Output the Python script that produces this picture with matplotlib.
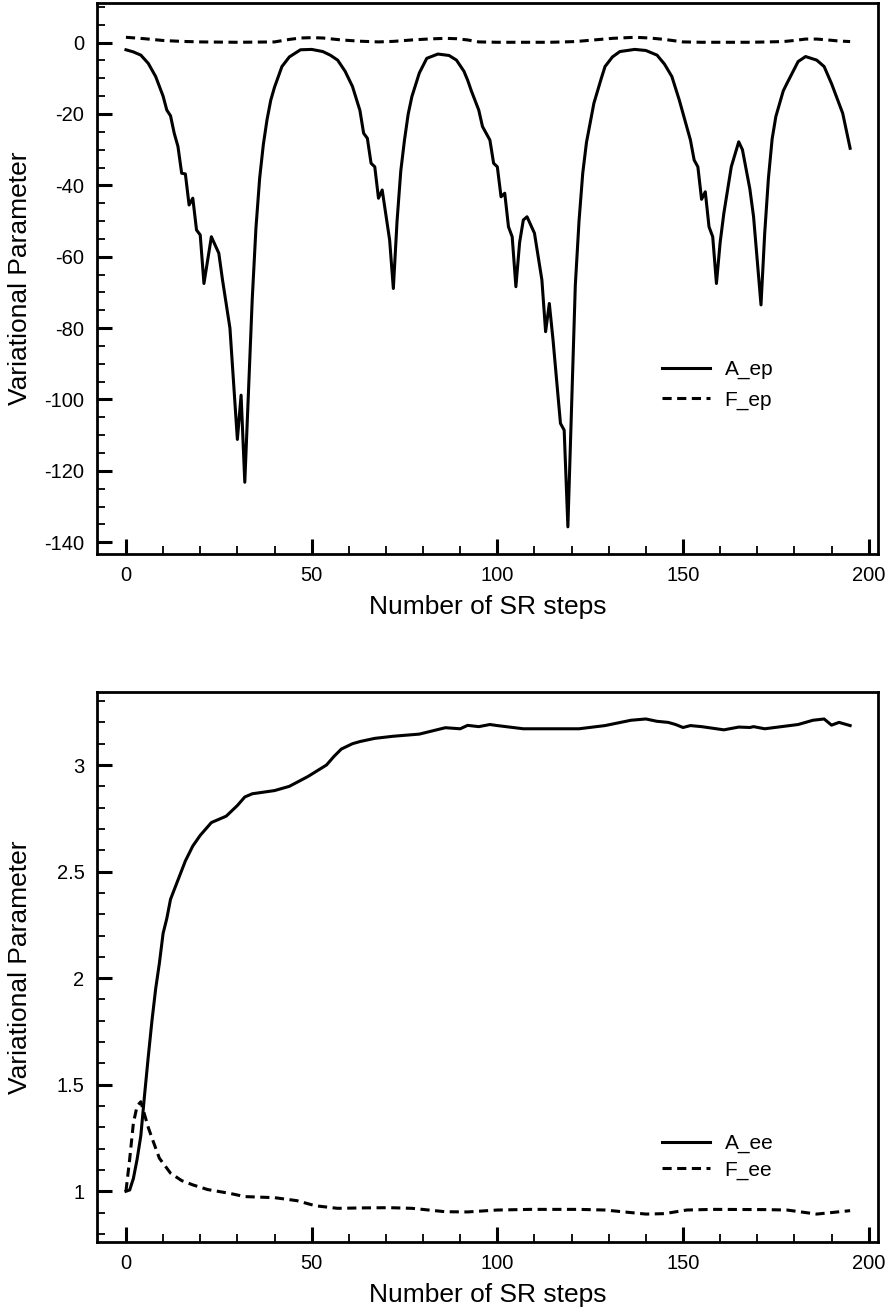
import matplotlib
matplotlib.use("Agg")
import matplotlib.pyplot as plt
from matplotlib.ticker import MultipleLocator, FuncFormatter

plt.rcParams["font.family"] = ["Liberation Sans", "DejaVu Sans"]
plt.rcParams["axes.unicode_minus"] = False

# electron-proton parameters vs. SR step
ep_steps_A = [0, 2, 4, 6, 8, 10, 11, 12, 13, 14, 15, 16, 17, 18, 19, 20, 21, 23, 25, 26, 28, 30, 31, 32,
              34, 35, 36, 37, 38, 39, 40, 42, 44, 47, 50, 53, 55, 57, 59, 61, 63, 64, 65, 66, 67, 68, 69,
              71, 72, 73, 74, 75, 76, 77, 79, 81, 84, 87, 89, 91, 92, 93, 95, 96, 97, 98, 99, 100, 101,
              102, 103, 104, 105, 106, 107, 108, 110, 112, 113, 114, 115, 117, 118, 119, 120, 121, 122,
              123, 124, 126, 128, 129, 131, 133, 137, 140, 143, 145, 147, 149, 151, 152, 153, 154, 155,
              156, 157, 158, 159, 160, 161, 163, 165, 166, 168, 169, 171, 172, 173, 174, 175, 177, 178,
              181, 183, 186, 188, 190, 192, 193, 195]
A_ep = [-2.0, -2.6, -3.5, -5.8, -9.5, -15.0, -18.9, -20.5, -25.4, -29.1, -36.6, -36.8, -45.5, -43.6,
        -52.5, -53.9, -67.5, -54.4, -59.0, -66.5, -80.0, -111.2, -98.8, -123.2,
        -72.0, -52.0, -38.0, -28.5, -21.5, -16.1, -12.5, -6.7, -4.0, -2.0, -1.9, -2.5, -3.5, -4.9,
        -8.0, -12.3, -19.0, -25.4, -26.8, -33.8, -34.8, -43.6, -41.3,
        -55.3, -68.9, -50.0, -36.0, -27.3, -20.0, -15.1, -8.5, -4.4, -3.2, -3.6, -4.9, -8.0, -10.5,
        -13.5, -18.9, -23.5, -25.4, -27.3, -33.8, -34.8, -43.2,
        -42.2, -51.6, -54.4, -68.4, -56.0, -49.7, -48.8, -53.4, -66.5, -81.0, -73.1, -83.3, -106.7,
        -108.6, -135.7, -102.0, -68.0, -50.0,
        -36.6, -28.0, -17.0, -10.0, -6.7, -4.0, -2.5, -1.9, -2.2, -3.5, -6.0, -9.5, -16.1, -23.5,
        -27.3, -32.9, -34.8, -43.9, -41.8, -51.6, -54.4, -67.5, -56.0, -47.8, -34.8, -27.8, -30.0,
        -41.0, -48.8, -73.5, -53.4, -38.0, -27.0, -20.7, -13.5, -11.4,
        -5.3, -3.9, -4.9, -6.7, -11.5, -17.0, -19.8, -29.6]

ep_steps_F = [0, 5, 10, 15, 20, 30, 40, 44, 47, 50, 53, 58, 63, 68, 72, 77, 82, 86, 89, 92, 95, 100,
              105, 110, 114, 118, 121, 126, 131, 137, 141, 145, 150, 155, 160, 168, 173, 177, 180, 183,
              186, 189, 192, 195]
F_ep = [1.5, 1.1, 0.6, 0.35, 0.2, 0.1, 0.2, 0.9, 1.3, 1.4, 1.3, 0.75, 0.4, 0.2, 0.35, 0.75, 1.05, 1.2,
        1.1, 0.75, 0.2, 0.1, 0.1, 0.1, 0.1, 0.2, 0.3, 0.75, 1.2, 1.5, 1.3, 0.9, 0.2, 0.1, 0.1, 0.1,
        0.2, 0.3, 0.6, 1.0, 1.0, 0.75, 0.45, 0.3]

# electron-electron parameters vs. SR step
ee_steps_A = [0, 1, 2, 3, 4, 5, 6, 7, 8, 9, 10, 11, 12, 14, 16, 18, 20, 23, 27, 30, 32, 34, 40, 44, 49,
              54, 56, 58, 61, 63, 67, 72, 79, 86, 90, 92, 95, 98, 100, 107, 113, 122, 129, 136, 140,
              143, 146, 148, 150, 152, 155, 161, 165, 168, 169, 172, 181, 185, 188, 190, 192, 195]
A_ee = [1.0, 1.006, 1.06, 1.15, 1.26, 1.45, 1.63, 1.80, 1.95, 2.07, 2.21, 2.28, 2.37, 2.46, 2.55, 2.62,
        2.67, 2.73, 2.76, 2.81, 2.85, 2.865, 2.88, 2.90, 2.946, 3.0, 3.04, 3.075, 3.10, 3.11, 3.125,
        3.135, 3.145, 3.175, 3.17, 3.186, 3.18, 3.19, 3.185, 3.17, 3.17, 3.17, 3.185, 3.21, 3.216,
        3.205, 3.20, 3.19, 3.176, 3.185, 3.18, 3.165, 3.178, 3.176, 3.18, 3.17, 3.19, 3.21, 3.216,
        3.187, 3.2, 3.185]

ee_steps_F = [0, 1, 2, 3, 4, 5, 6, 7, 9, 12, 15, 18, 22, 28, 32, 40, 46, 51, 57, 64, 71, 77, 86, 92,
              100, 109, 122, 129, 140, 145, 151, 158, 172, 178, 186, 195]
F_ee = [1.0, 1.15, 1.32, 1.40, 1.42, 1.36, 1.30, 1.25, 1.155, 1.085, 1.05, 1.03, 1.008, 0.99, 0.975,
        0.97, 0.956, 0.932, 0.92, 0.922, 0.923, 0.92, 0.904, 0.903, 0.912, 0.915, 0.915, 0.912, 0.893,
        0.895, 0.912, 0.915, 0.914, 0.912, 0.893, 0.909]

xlabel = "Number of SR steps"
ylabel = "Variational Parameter"

fig = plt.figure(figsize=(8.89, 13.14), dpi=100)
ax1 = fig.add_axes([0.1091, 0.5784, 0.8785, 0.4193])
ax2 = fig.add_axes([0.1091, 0.0548, 0.8785, 0.4188])

lw = 2.2
dash = (0, (3.0, 1.8))


def style(ax, ymajor, yminor):
    for sp in ax.spines.values():
        sp.set_linewidth(2.0)
    ax.xaxis.set_major_locator(MultipleLocator(50))
    ax.xaxis.set_minor_locator(MultipleLocator(10))
    ax.yaxis.set_major_locator(MultipleLocator(ymajor))
    ax.yaxis.set_minor_locator(MultipleLocator(yminor))
    ax.tick_params(which="both", direction="in", top=False, right=False, labelsize=14.5, pad=9)
    ax.tick_params(which="major", length=11, width=2.2)
    ax.tick_params(which="minor", length=5.5, width=1.3)
    ax.set_xlabel(xlabel, fontsize=19, labelpad=7)
    ax.set_ylabel(ylabel, fontsize=19)
    ax.yaxis.set_label_coords(-0.083, 0.5)
    ax.set_xlim(-7.8, 202.5)


ax1.plot(ep_steps_A, A_ep, color="black", lw=lw, label="A_ep")
ax1.plot(ep_steps_F, F_ep, color="black", lw=lw, ls=dash, label="F_ep")
style(ax1, 20, 5)
ax1.set_ylim(-143.3, 11.1)
ax1.legend(loc="center left", bbox_to_anchor=(0.7234, 0.3067), frameon=False, fontsize=15,
           handlelength=2.3, handletextpad=0.7, labelspacing=0.55, borderpad=0, borderaxespad=0)

ax2.plot(ee_steps_A, A_ee, color="black", lw=lw, label="A_ee")
ax2.plot(ee_steps_F, F_ee, color="black", lw=lw, ls=dash, label="F_ee")
style(ax2, 0.5, 0.1)
ax2.set_ylim(0.762, 3.344)
ax2.yaxis.set_major_formatter(FuncFormatter(lambda v, p: f"{v:g}"))
ax2.legend(loc="center left", bbox_to_anchor=(0.7234, 0.1545), frameon=False, fontsize=15,
           handlelength=2.3, handletextpad=0.7, labelspacing=0.35, borderpad=0, borderaxespad=0)

fig.savefig("out.png", dpi=100)
